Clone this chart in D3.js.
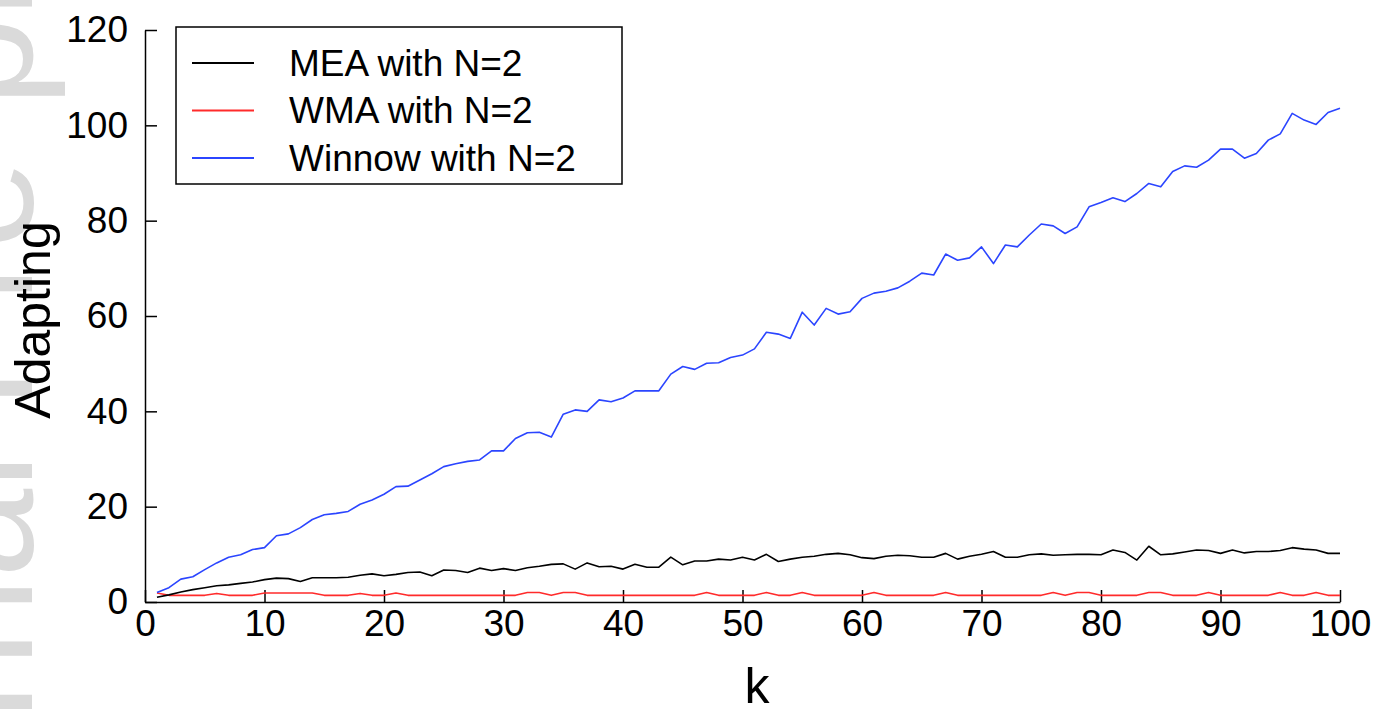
<!DOCTYPE html>
<html>
<head>
<meta charset="utf-8">
<script src="https://cdn.jsdelivr.net/npm/d3@7"></script>
<style>
  body { margin: 0; background: #fff; }
  svg { display: block; font-family: "Liberation Sans", Arial, sans-serif; }
</style>
</head>
<body>
<div class="chart"></div>
<script>
// values, k = 1..100
var kValues = [1,2,3,4,5,6,7,8,9,10,11,12,13,14,15,16,17,18,19,20,
  21,22,23,24,25,26,27,28,29,30,31,32,33,34,35,36,37,38,39,40,
  41,42,43,44,45,46,47,48,49,50,51,52,53,54,55,56,57,58,59,60,
  61,62,63,64,65,66,67,68,69,70,71,72,73,74,75,76,77,78,79,80,
  81,82,83,84,85,86,87,88,89,90,91,92,93,94,95,96,97,98,99,100];

var meaValues = [1.0,1.5,2.1,2.6,3.0,3.4,3.6,3.9,4.2,4.7,
  5.0,4.9,4.3,5.1,5.1,5.1,5.2,5.6,5.9,5.5,
  5.8,6.2,6.3,5.5,6.7,6.6,6.2,7.1,6.6,7.0,
  6.6,7.2,7.5,7.9,8.0,6.9,8.2,7.4,7.5,6.9,
  7.9,7.3,7.3,9.4,7.8,8.6,8.6,9.0,8.8,9.4,
  8.8,10.0,8.5,9.0,9.4,9.6,10.0,10.2,9.9,9.3,
  9.1,9.6,9.8,9.7,9.4,9.4,10.2,9.0,9.6,10.0,
  10.6,9.4,9.4,9.9,10.1,9.8,9.9,10.0,10.0,9.9,
  10.9,10.4,8.8,11.7,9.9,10.1,10.5,10.9,10.8,10.2,
  10.9,10.3,10.6,10.6,10.8,11.4,11.1,10.9,10.2,10.2];

var wmaValues = [1.9,1.4,1.4,1.4,1.4,1.8,1.4,1.4,1.4,1.9,
  1.9,1.9,1.9,1.9,1.4,1.4,1.4,1.8,1.4,1.4,
  1.9,1.4,1.4,1.4,1.4,1.4,1.4,1.4,1.4,1.4,
  1.4,2.0,2.0,1.4,2.0,2.0,1.4,1.4,1.4,1.4,
  1.4,1.4,1.4,1.4,1.4,1.4,2.0,1.4,1.4,1.4,
  1.4,2.0,1.4,1.4,2.0,1.4,1.4,1.4,1.4,1.4,
  2.0,1.4,1.4,1.4,1.4,1.4,2.0,1.4,1.4,1.4,
  1.4,1.4,1.4,1.4,1.4,2.0,1.4,2.0,2.0,1.4,
  1.4,1.4,1.4,2.0,2.0,1.4,1.4,1.4,2.0,1.4,
  1.4,1.4,1.4,1.4,2.0,1.4,1.4,2.0,1.4,1.4];

var winnowValues = [2.0,3.0,4.8,5.3,6.8,8.2,9.4,9.9,11.0,11.4,
  13.9,14.3,15.6,17.3,18.3,18.6,19.0,20.5,21.4,22.6,
  24.2,24.3,25.6,26.9,28.4,29.0,29.5,29.8,31.7,31.7,
  34.3,35.5,35.6,34.6,39.4,40.3,40.0,42.4,42.0,42.8,
  44.3,44.3,44.3,47.8,49.4,48.8,50.1,50.2,51.3,51.8,
  53.1,56.6,56.2,55.3,60.8,58.1,61.6,60.4,60.9,63.7,
  64.8,65.2,65.9,67.3,69.0,68.6,73.0,71.7,72.2,74.5,
  71.0,74.9,74.5,77.0,79.3,78.9,77.3,78.7,82.9,83.8,
  84.8,84.0,85.7,87.8,87.1,90.3,91.5,91.2,92.7,95.0,
  95.0,93.1,94.1,96.9,98.2,102.5,101.1,100.2,102.7,103.6];

var seriesNames = ["MEA with N=2", "WMA with N=2", "Winnow with N=2"];
var xTickValues = [0, 10, 20, 30, 40, 50, 60, 70, 80, 90, 100];
var yTickValues = [0, 20, 40, 60, 80, 100, 120];

function drawChart() {
  var color = ["#000000", "#ff2b2b", "#2b45ff"];
  const width = 1375;
  const height = 719;

  var svg = d3.select("div.chart")
              .append("svg")
              .attr("width", width)
              .attr("height", height);

  // faint watermark cut off at the left edge
  svg.append("text")
     .attr("transform", "translate(32,360) rotate(-90)")
     .attr("text-anchor", "middle")
     .style("font-size", "160px")
     .style("fill", "#dadada")
     .text("Journal Pre-proof");

  var x = d3.scaleLinear().domain([0, 100]).range([145, 1340]);
  var y = d3.scaleLinear().domain([0, 120]).range([602, 30]);

  var xAxis = d3.axisBottom(x)
                .tickValues(xTickValues)
                .tickSizeInner(-12)
                .tickSizeOuter(0)
                .tickPadding(8);

  var yAxis = d3.axisLeft(y)
                .tickValues(yTickValues)
                .tickSizeInner(-12)
                .tickSizeOuter(0)
                .tickPadding(17);

  var gx = svg.append("g")
              .attr("transform", "translate(0," + y(0) + ")")
              .call(xAxis);

  var gy = svg.append("g")
              .attr("transform", "translate(" + x(0) + ",0)")
              .call(yAxis);

  [gx, gy].forEach(function(g) {
    g.selectAll("path, line").attr("stroke", "#000").attr("stroke-width", 1.5);
    g.selectAll("text")
     .attr("fill", "#000")
     .style("font-size", "37px")
     .attr("font-family", null);
  });

  // axis titles
  svg.append("text")
     .attr("x", 757)
     .attr("y", 703)
     .attr("text-anchor", "middle")
     .style("font-size", "50px")
     .text("k");

  svg.append("text")
     .attr("transform", "translate(50,320) rotate(-90)")
     .attr("text-anchor", "middle")
     .style("font-size", "50px")
     .text("Adapting");

  var series = [meaValues, wmaValues, winnowValues];

  var line = d3.line()
               .x(function(d, i) { return x(kValues[i]); })
               .y(function(d) { return y(d); });

  // draw red first, then black, blue on top
  [1, 0, 2].forEach(function(s) {
    svg.append("path")
       .datum(series[s])
       .attr("fill", "none")
       .attr("stroke", color[s])
       .attr("stroke-width", 1.6)
       .attr("stroke-linejoin", "round")
       .attr("d", line);
  });

  // legend
  var legendBox = svg.append("g");
  legendBox.append("rect")
     .attr("x", 176)
     .attr("y", 27)
     .attr("width", 446)
     .attr("height", 157)
     .attr("fill", "#fff")
     .attr("stroke", "#000")
     .attr("stroke-width", 1.5);

  var legend = legendBox.selectAll(".legend")
                  .data(seriesNames)
                  .enter()
                  .append("g")
                  .attr("class", "legend")
                  .attr("transform", function(d, i) {
                      return "translate(0," + (63 + i * 47.5) + ")";
                  });

  legend.append("line")
        .attr("x1", 192)
        .attr("x2", 254)
        .attr("stroke", function(d, i) { return color[i]; })
        .attr("stroke-width", 1.8);

  legend.append("text")
        .attr("x", 289)
        .attr("y", 12.5)
        .style("font-size", "37px")
        .text(function(d) { return d; });
}

drawChart();
</script>
</body>
</html>
